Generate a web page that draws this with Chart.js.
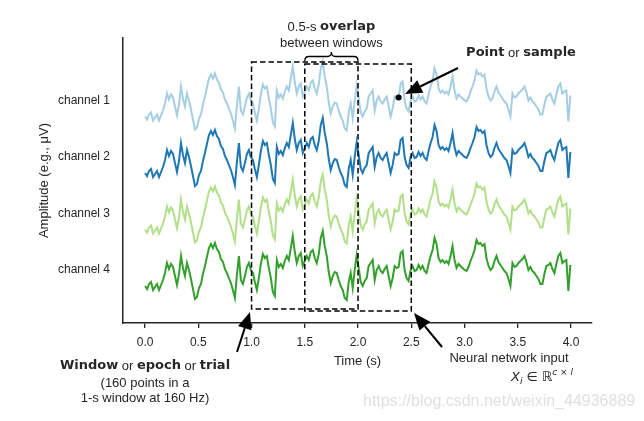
<!DOCTYPE html>
<html>
<head>
<meta charset="utf-8">
<script src="https://cdn.jsdelivr.net/npm/chart.js@4/dist/chart.umd.min.js"></script>
<style>
  html, body { margin: 0; padding: 0; background: #fff; }
  #eeg { display: block; }
</style>
</head>
<body>
<canvas id="eeg" width="644" height="421"></canvas>
<script>
// every 3rd sample of a 160 Hz recording, 0 - 4 s
const fs = 160;
const step = 3;
// common waveform (µV), the four channels share it
const wave = [
    -16, -19, -14, -12, -20, -17, -14, -20, -15, -10,
    -3, 7, 1, 6, 3, -6, -15, -4, 14, 2,
    -6, 7, 0, -9, -19, -29, -27, -18, -14, -4,
    4, 13, 22, 26, 22, 27, 21, 18, 11, 8,
    1, -3, -8, -13, -20, -28, -5, 14, -10, -14,
    -6, 3, 7, 0, -3, -12, -20, -8, 6, 16,
    12, 14, 2, -8, -22, -26, 10, 3, 6, 2,
    9, 14, 10, 22, 34, 18, 7, 14, 17, 4,
    9, 14, 10, 18, 20, 12, 7, 16, 32, 39,
    24, 14, -2, -13, -6, -2, -3, -10, -16, -20,
    -28, -30, -12, -3, -18, 0, 15, 2, -12, -16,
    -11, -8, 4, 7, 10, -10, 0, 4, -1, -3,
    1, 4, -6, -16, -8, 4, 2, 3, 17, 19,
    0, -8, -11, 0, 4, -1, 0, 5, 1, 4,
    -1, -3, 6, 14, 20, 32, 26, 12, 8, 10,
    7, 9, 6, 14, 24, 10, 2, 6, 4, 2,
    0, -1, 3, 9, 14, 20, 30, 26, 27, 24,
    26, 12, 4, 0, 2, 9, 14, 8, 5, 2,
    -1, -3, -9, -16, 7, 3, 4, 7, 9, 11,
    14, 8, 0, 3, -1, -3, -6, -9, -14, -14,
    -4, 4, 5, 7, 1, -3, 6, 14, 17, 7,
    9, 10, -21, 5
];
const times = wave.map((_, i) => i * step / fs);

const channelNames = ['channel 1', 'channel 2', 'channel 3', 'channel 4'];
const channelOffsets = [169.5, 113, 56.5, 0];
const channelColors = ['#a6cee3', '#1f78b4', '#b2df8a', '#33a02c'];
const timeTicks = [0.0, 0.5, 1.0, 1.5, 2.0, 2.5, 3.0, 3.5, 4.0];

// windows: [start, end] in seconds (1-s windows, 0.5-s overlap)
const windows = [[1.0, 2.0], [1.5, 2.5]];
const windowTops = [208, 206];
const windowBottoms = [-39, -41];
const sampleIdx = 127; // the highlighted "point" on channel 1

const ink = '#262626';
const sans = "'Liberation Sans', Arial, sans-serif";
const bold = "bold 13px 'DejaVu Sans', sans-serif";

function richText(ctx, parts, x, y, align) {
    let total = 0;
    const ws = parts.map(p => {
        ctx.font = p.b ? bold : '13px ' + sans;
        const w = ctx.measureText(p.t).width;
        total += w;
        return w;
    });
    let cx = align === 'right' ? x - total : align === 'left' ? x : x - total / 2;
    ctx.textAlign = 'left';
    ctx.textBaseline = 'middle';
    parts.forEach((p, i) => {
        ctx.font = p.b ? bold : '13px ' + sans;
        ctx.fillText(p.t, cx, y);
        cx += ws[i];
    });
}

function arrow(ctx, x0, y0, x1, y1) {
    const a = Math.atan2(y1 - y0, x1 - x0), L = 17, W = 7;
    const bx = x1 - L * Math.cos(a), by = y1 - L * Math.sin(a);
    ctx.beginPath();
    ctx.moveTo(x0, y0);
    ctx.lineTo(bx, by);
    ctx.stroke();
    ctx.beginPath();
    ctx.moveTo(x1, y1);
    ctx.lineTo(bx + W * Math.sin(a), by - W * Math.cos(a));
    ctx.lineTo(bx - W * Math.sin(a), by + W * Math.cos(a));
    ctx.closePath();
    ctx.fill();
}

const annotations = {
    id: 'annotations',
    afterDraw(chart) {
        const { ctx, scales: { x, y } } = chart;
        ctx.save();
        ctx.strokeStyle = '#000';
        ctx.fillStyle = '#000';

        // dashed windows
        ctx.lineWidth = 1.5;
        ctx.setLineDash([5.5, 3]);
        windows.forEach(([t0, t1], i) => {
            const l = x.getPixelForValue(t0), r = x.getPixelForValue(t1);
            const t = y.getPixelForValue(windowTops[i]), b = y.getPixelForValue(windowBottoms[i]);
            ctx.strokeRect(l, t, r - l, b - t);
        });
        ctx.setLineDash([]);

        // brace over the overlap
        const bx0 = x.getPixelForValue(windows[1][0]), bx1 = x.getPixelForValue(windows[0][1]);
        const bm = (bx0 + bx1) / 2, yb = y.getPixelForValue(windowTops[0]) - 1, h = 9, r = 4;
        ctx.lineWidth = 1.3;
        ctx.beginPath();
        ctx.moveTo(bx0, yb);
        ctx.quadraticCurveTo(bx0, yb - h / 2, bx0 + r, yb - h / 2);
        ctx.lineTo(bm - r, yb - h / 2);
        ctx.quadraticCurveTo(bm, yb - h / 2, bm, yb - h);
        ctx.quadraticCurveTo(bm, yb - h / 2, bm + r, yb - h / 2);
        ctx.lineTo(bx1 - r, yb - h / 2);
        ctx.quadraticCurveTo(bx1, yb - h / 2, bx1, yb);
        ctx.stroke();

        // arrows
        ctx.lineWidth = 2;
        arrow(ctx, 458, 68, 405, 94);
        arrow(ctx, 237, 352, 250, 312);
        arrow(ctx, 442, 347, 414, 313);

        // texts
        ctx.fillStyle = ink;
        richText(ctx, [{ t: '0.5-s ' }, { t: 'overlap', b: true }], bm, 27);
        richText(ctx, [{ t: 'between windows' }], bm, 43);
        richText(ctx, [{ t: 'Point', b: true }, { t: ' or ' }, { t: 'sample', b: true }], 521, 53);
        richText(ctx, [{ t: 'Window', b: true }, { t: ' or ' }, { t: 'epoch', b: true }, { t: ' or ' }, { t: 'trial', b: true }], 145, 366);
        richText(ctx, [{ t: '(160 points in a' }], 145, 383);
        richText(ctx, [{ t: '1-s window at 160 Hz)' }], 145, 398);
        richText(ctx, [{ t: 'Neural network input' }], 509, 358);

        // X_i ∈ R^{c×l}
        ctx.textBaseline = 'alphabetic';
        ctx.textAlign = 'left';
        let cx = 511;
        const base = 381;
        const seg = (txt, font, dy) => {
            ctx.font = font;
            ctx.fillText(txt, cx, base + dy);
            cx += ctx.measureText(txt).width;
        };
        seg('X', "oblique 13px 'DejaVu Sans'", 0);
        seg('i', "oblique 9px 'DejaVu Sans'", 3);
        seg(' ∈ ', "13px 'DejaVu Sans'", 0);
        seg('ℝ', "13px 'DejaVu Sans'", 0);
        seg('c', "oblique 9px 'DejaVu Sans'", -6);
        seg(' × ', "9px 'DejaVu Sans'", -6);
        seg('l', "oblique 9px 'DejaVu Sans'", -6);

        // watermark
        ctx.fillStyle = '#e0e0e0';
        ctx.font = '16px ' + sans;
        ctx.textBaseline = 'middle';
        ctx.fillText('https://blog.csdn.net/weixin_44936889', 363, 402);
        ctx.restore();
    }
};

const datasets = channelNames.map((name, c) => ({
    label: name,
    data: times.map((t, i) => ({ x: t, y: wave[i] + channelOffsets[c] })),
    borderColor: channelColors[c],
    borderWidth: 2,
    pointRadius: 0,
    tension: 0,
    fill: false
}));
datasets.unshift({
    type: 'scatter',
    label: 'sample',
    data: [{ x: times[sampleIdx], y: wave[sampleIdx] + channelOffsets[0] }],
    pointRadius: 3,
    backgroundColor: '#000',
    borderWidth: 0
});

new Chart(document.getElementById('eeg'), {
    type: 'line',
    data: { datasets },
    options: {
        responsive: false,
        animation: false,
        layout: { padding: { top: 38, right: 52, bottom: 0, left: 0 } },
        plugins: { legend: { display: false }, tooltip: { enabled: false } },
        scales: {
            x: {
                type: 'linear',
                min: -0.207, max: 4.197,
                afterBuildTicks: s => { s.ticks = timeTicks.map(v => ({ value: v })); },
                afterFit: s => { s.height = 98; },
                grid: { drawOnChartArea: false, drawTicks: true, tickLength: 5, color: ink, lineWidth: 1.3 },
                border: { display: true, color: ink, width: 1.5 },
                ticks: {
                    font: { family: sans, size: 12 }, color: ink, padding: 7,
                    maxRotation: 0, autoSkip: false,
                    callback: v => v.toFixed(1)
                },
                title: {
                    display: true, text: 'Time (s)', color: ink,
                    font: { family: sans, size: 13 }, padding: { top: 0, bottom: 52 }
                }
            },
            y: {
                min: -53, max: 232,
                afterBuildTicks: s => { s.ticks = channelOffsets.map(v => ({ value: v })); },
                afterFit: s => { s.width = 123; },
                grid: { display: false, drawTicks: false },
                border: { display: true, color: ink, width: 1.5 },
                ticks: {
                    font: { family: sans, size: 12 }, color: ink, padding: 13,
                    callback: v => channelNames[channelOffsets.indexOf(v)]
                },
                title: {
                    display: true, text: 'Amplitude (e.g., μV)', color: ink,
                    font: { family: sans, size: 13 }, padding: { top: 37, bottom: 0 }
                }
            }
        }
    },
    plugins: [annotations]
});
</script>
</body>
</html>
